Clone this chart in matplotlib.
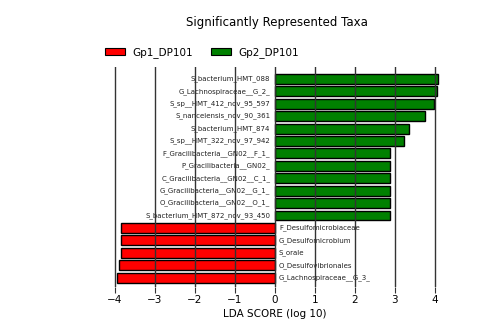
import numpy as np
import matplotlib.pyplot as plt

# taxa listed top to bottom as they appear in the plot
taxa = [
    'S_bacterium_HMT_088',
    'G_Lachnospiraceae__G_2_',
    'S_sp__HMT_412_nov_95_597',
    'S_nanceiensis_nov_90_361',
    'S_bacterium_HMT_874',
    'S_sp__HMT_322_nov_97_942',
    'F_Gracilibacteria__GN02__F_1_',
    'P_Gracilibacteria__GN02_',
    'C_Gracilibacteria__GN02__C_1_',
    'G_Gracilibacteria__GN02__G_1_',
    'O_Gracilibacteria__GN02__O_1_',
    'S_bacterium_HMT_872_nov_93_450',
    'F_Desulfomicrobiaceae',
    'G_Desulfomicrobium',
    'S_orale',
    'O_Desulfovibrionales',
    'G_Lachnospiraceae__G_3_',
]
lda = [4.08, 4.05, 3.98, 3.76, 3.35, 3.22, 2.88, 2.88, 2.88, 2.88, 2.88, 2.88,
       -3.85, -3.85, -3.85, -3.90, -3.95]
groups = ['Gp1_DP101', 'Gp2_DP101']
colors = {'Gp1_DP101': '#ff0000', 'Gp2_DP101': '#008000'}

fig = plt.figure(figsize=(5.04, 3.34), dpi=100)
ax = fig.add_axes([0.1885, 0.141, 0.714, 0.659])

n = len(taxa)
ypos = np.arange(n)[::-1]
bar_cols = [colors['Gp2_DP101'] if v > 0 else colors['Gp1_DP101'] for v in lda]
ax.barh(ypos, lda, height=0.8, color=bar_cols, edgecolor='black', linewidth=1, zorder=1)

for y, v, name in zip(ypos, lda, taxa):
    if v > 0:
        ax.text(-0.12, y, name, ha='right', va='center', fontsize=5, color='#222222', zorder=0)
    else:
        ax.text(0.1, y, name, ha='left', va='center', fontsize=5, color='#222222', zorder=0)

ax.set_xlim(-4.5, 4.5)
ax.set_ylim(-0.75, n - 1 + 0.97)
ax.set_xticks([-4, -3, -2, -1, 0, 1, 2, 3, 4])
ax.set_yticks([])
ax.xaxis.grid(True, color='#333333', linewidth=1, zorder=3)
ax.set_axisbelow(False)
for s in ax.spines.values():
    s.set_visible(False)
ax.tick_params(axis='x', length=4, color='#333333', labelsize=7.5, pad=2)
ax.set_xlabel('LDA SCORE (log 10)', fontsize=7.5, labelpad=3)

handles = [plt.Rectangle((0, 0), 1, 1, facecolor=colors[g], edgecolor='black', linewidth=0.8) for g in groups]
fig.legend(handles, groups, loc='center left', bbox_to_anchor=(0.2, 0.843), ncol=2,
           frameon=False, fontsize=7.5, handlelength=1.9, handleheight=0.7, columnspacing=1.7,
           borderaxespad=0, handletextpad=0.75)
fig.text(0.55, 0.932, 'Significantly Represented Taxa', ha='center', va='center', fontsize=8.5)

fig.savefig('out.png', dpi=100)
